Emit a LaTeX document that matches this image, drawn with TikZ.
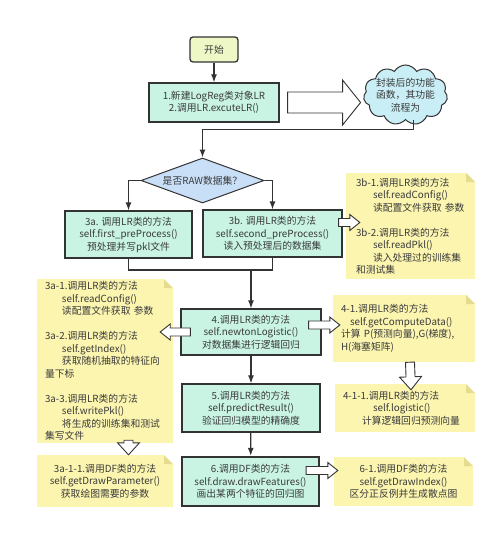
\documentclass[tikz,border=0pt]{standalone}
\usepackage{fontspec}
\setmainfont{Noto Sans CJK SC}
\usetikzlibrary{arrows.meta,calc,shapes.geometric,shapes.symbols}

\definecolor{linecol}{HTML}{333333}
\definecolor{textcol}{HTML}{3A3A3A}
\definecolor{boxfill}{HTML}{C9F4E4}
\definecolor{startfill}{HTML}{EDF8C6}
\definecolor{askfill}{HTML}{C8DFF7}
\definecolor{cloudfill}{HTML}{C9EEF5}
\definecolor{notefill}{HTML}{FBF5B0}
\definecolor{notefold}{HTML}{E6DC90}

\tikzset{
  every node/.style={text=textcol, font=\fontsize{9.8}{12.5}\selectfont},
  stepbox/.style={draw=linecol, line width=1.3pt, fill=boxfill, align=center, inner sep=2pt},
  startbox/.style={draw=linecol, line width=1.3pt, fill=startfill, rounded corners=3pt,
    minimum width=48pt, minimum height=25pt},
  askbox/.style={diamond, draw=linecol, line width=1pt, fill=askfill, aspect=2.7,
    minimum width=123pt, minimum height=45pt, inner sep=0pt},
  notebox/.style={fill=notefill, inner ysep=0pt, inner xsep=8pt,
    path picture={
      \fill[white] ([xshift=-9pt]path picture bounding box.north east) -- (path picture bounding box.north east)
        -- ([yshift=-9pt]path picture bounding box.north east) -- cycle;
      \fill[notefold] ([xshift=-9pt]path picture bounding box.north east)
        -- ([xshift=-9pt,yshift=-9pt]path picture bounding box.north east)
        -- ([yshift=-9pt]path picture bounding box.north east) -- cycle;}},
  conn/.style={draw=linecol, line width=1.2pt, -{Latex[length=8pt,width=6pt]}},
  link/.style={draw=linecol, line width=1.2pt},
  fat/.style n args={3}{draw=linecol, fill=white, line width=0.9pt, line join=miter,
    to path={
      ($(\tikztotarget)!#3!(\tikztostart)$) coordinate (hb)
      ($(\tikztostart)!#1!90:(\tikztotarget)$) -- ($(hb)!#1!90:(\tikztotarget)$)
      -- ($(hb)!#2!90:(\tikztotarget)$) -- (\tikztotarget)
      -- ($(hb)!#2!-90:(\tikztotarget)$) -- ($(hb)!#1!-90:(\tikztotarget)$)
      -- ($(\tikztostart)!#1!-90:(\tikztotarget)$) -- cycle}}
}

\begin{document}
\begin{tikzpicture}[x=1pt,y=-1pt]
\useasboundingbox (0,0) rectangle (500,533);

% main flow
\node[startbox] (start) at (214,49.5) {开始};
\node[stepbox, minimum width=130pt, minimum height=39pt] (new) at (214,102.5)
  {1.新建LogReg类对象LR\\2.调用LR.excuteLR()};
\node[cloud, cloud puffs=11, cloud puff arc=120, aspect=1.4, draw=linecol, line width=1pt, fill=cloudfill,
  align=center, inner sep=-13pt, minimum width=84pt, minimum height=60pt] (wrap) at (405.5,95)
  {封装后的功能\\函数，其功能\\流程为};
\node[askbox] (ask) at (202.5,180.5) {是否RAW数据集？};
\node[stepbox, minimum width=127pt, minimum height=47pt] (pre3a) at (128.5,234.5)
  {3a. 调用LR类的方法\\self.first\_preProcess()\\预处理并写pkl文件};
\node[stepbox, minimum width=139pt, minimum height=47pt] (pre3b) at (272.5,233.5)
  {3b. 调用LR类的方法\\self.second\_preProcess()\\读入预处理后的数据集};
\node[stepbox, minimum width=140pt, minimum height=46pt] (newton) at (251,332)
  {4.调用LR类的方法\\self.newtonLogistic()\\对数据集进行逻辑回归};
\node[stepbox, minimum width=138pt, minimum height=48pt] (predict) at (251,408)
  {5.调用LR类的方法\\self.predictResult()\\验证回归模型的精确度};
\node[stepbox, line width=2.3pt, minimum width=137pt, minimum height=49pt] (drawf) at (250.5,481.5)
  {6.调用DF类的方法\\self.draw.drawFeatures()\\画出某两个特征的回归图};

% notes
\node[notebox, inner xsep=10pt, text width=109pt, minimum height=106pt, align=left] (note3b) at (410.5,226)
  {3b-1.调用LR类的方法\\
   \hspace*{17pt}self.readConfig()\\
   \hspace*{17pt}读配置文件获取 参数\\[12.5pt]
   3b-2.调用LR类的方法\\
   \hspace*{17pt}self.readPkl()\\
   \hspace*{17pt}读入处理过的训练集\\
   和测试集};
\node[notebox, text width=120pt, minimum height=164pt, align=left] (note3a) at (105,361)
  {3a-1.调用LR类的方法\\
   \hspace*{17pt}self.readConfig()\\
   \hspace*{17pt}读配置文件获取 参数\\[12.5pt]
   3a-2.调用LR类的方法\\
   \hspace*{17pt}self.getIndex()\\
   \hspace*{17pt}获取随机抽取的特征向\\
   量下标\\[12.5pt]
   3a-3.调用LR类的方法\\
   \hspace*{17pt}self.writePkl()\\
   \hspace*{17pt}将生成的训练集和测试\\
   集写文件};
\node[notebox, minimum width=136pt, minimum height=52pt, align=center] (note3a11) at (105,481)
  {3a-1-1.调用DF类的方法\\self.getDrawParameter()\\获取绘图需要的参数};
\node[notebox, text width=126pt, minimum height=67pt, align=left] (note41) at (404,328.5)
  {4-1.调用LR类的方法\\
   \hspace*{9pt}self.getComputeData()\\
   计算 P(预测向量),G(梯度),\\
   H(海塞矩阵)};
\node[notebox, text width=124pt, minimum height=48pt, align=left] (note411) at (405,408)
  {4-1-1.调用LR类的方法\\
   \hspace*{30pt}self.logistic()\\
   \hspace*{19pt}计算逻辑回归预测向量};
\node[notebox, minimum width=139pt, minimum height=49pt, align=center] (note61) at (403.5,481.5)
  {6-1.调用DF类的方法\\self.getDrawIndex()\\区分正反例并生成散点图};

% connectors
\draw[conn] (start) -- (new);
\draw[conn] ([xshift=8pt]wrap.south) -- ++(0,9) -| (ask.north);
\draw[conn] (ask.west) -| (pre3a.north);
\draw[conn] (ask.east) -| (pre3b.north);
\coordinate (merge) at (251,270);
\draw[link] (pre3a.south) |- (merge) -| (pre3b.south);
\draw[conn] (merge) -- (newton.north);
\draw[conn] (newton) -- (predict);
\draw[conn] (predict) -- (drawf);

% hollow arrows
\path[fat={10.5pt}{22.5pt}{18pt}] ([xshift=8pt]new.east) to ([xshift=-3pt]new.east -| wrap.west);
\path[fat={4pt}{8pt}{10pt}] ([xshift=-4pt,yshift=11pt]pre3b.east) to ([xshift=14pt,yshift=11pt]pre3b.east -| note3b.west);
\path[fat={4pt}{8pt}{10pt}] ([xshift=10pt]newton.west) to ([xshift=-13pt]newton.west -| note3a.east);
\path[fat={4pt}{8pt}{10pt}] ([xshift=-13pt,yshift=7pt]newton.east) to ([xshift=7pt,yshift=7pt]newton.east -| note41.west);
\path[fat={4.5pt}{11pt}{12pt}] ([yshift=3pt]pre3a.south |- note3a.south) to (pre3a.south |- note3a11.north);
\path[fat={4.5pt}{11pt}{13pt}] ([xshift=6pt]note41.south) to ([xshift=6pt,yshift=-6pt]note411.north);
\path[fat={4pt}{8pt}{10pt}] ([xshift=-14pt,yshift=11pt]drawf.east) to ([xshift=4pt,yshift=11pt]drawf.east -| note61.west);
\end{tikzpicture}
\end{document}
